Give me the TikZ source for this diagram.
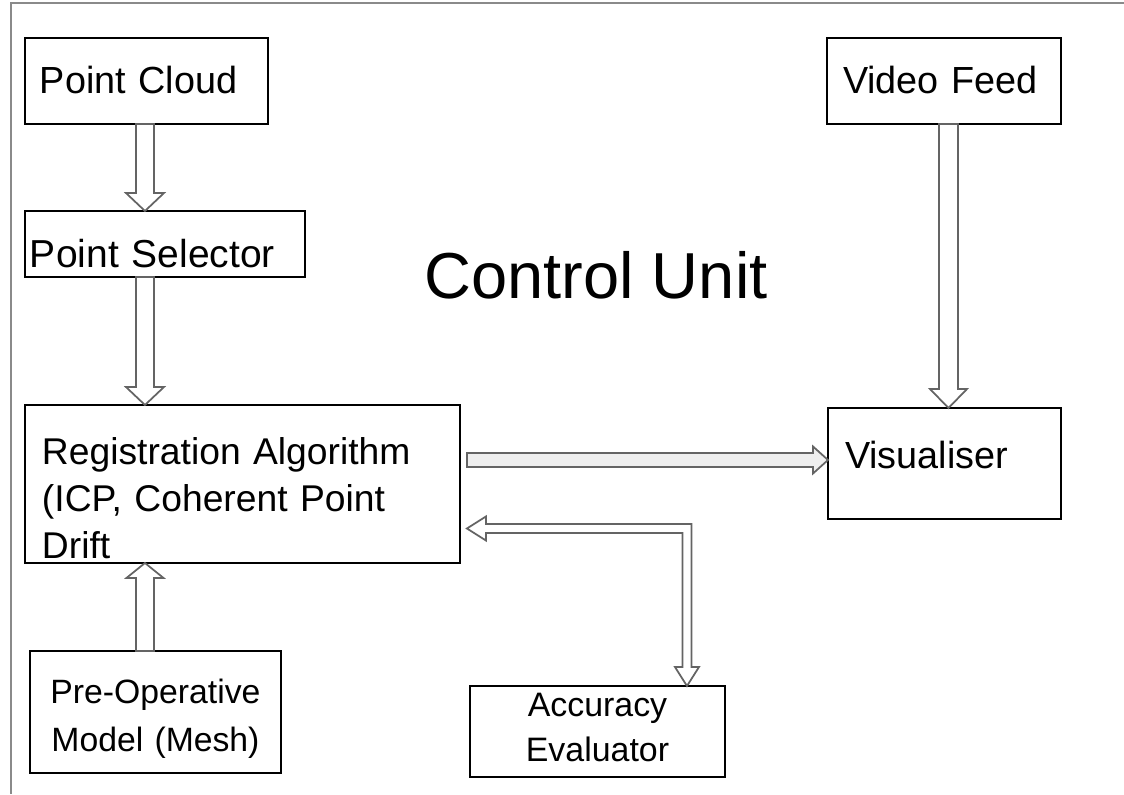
\documentclass[tikz,border=0pt]{standalone}
\usepackage{fontspec}
\setmainfont{Liberation Sans}
\usetikzlibrary{calc}

\definecolor{framegray}{HTML}{8A8A8A}
\definecolor{arrowgray}{HTML}{646464}
\definecolor{barfill}{HTML}{EEEEEE}

% hollow block arrow: shaft half width, head half width, head length
\tikzset{
  blockarrow/.style n args={3}{to path={let \p1=(\tikztostart), \p2=(\tikztotarget), \p3=($(\p2)!#3!(\p1)$) in
    ($(\p1)!#1!90:(\p2)$) -- ($(\p3)!#1!90:(\p2)$) -- ($(\p3)!#2!90:(\p2)$) -- (\p2)
    -- ($(\p3)!#2!-90:(\p2)$) -- ($(\p3)!#1!-90:(\p2)$) -- ($(\p1)!#1!-90:(\p2)$) -- cycle}},
}

\begin{document}
\begin{tikzpicture}[x=0.02cm, y=-0.02cm,
  box/.style={draw, line width=0.04cm, anchor=north west, inner ysep=0pt, outer sep=0pt, align=left,
    font=\fontsize{21.5pt}{26.6pt}\selectfont},
  blk/.style={draw=arrowgray, line width=0.035cm, fill=white, line join=miter}]
\useasboundingbox (0,0) rectangle (1124,794);
\draw[framegray, line width=0.04cm] (1124,3) -- (11,3) -- (11,794);

\node[box, inner xsep=0.3cm, text width=4.26cm, text height=1.12cm, text depth=0.6cm] (cloud) at (25,38) {Point Cloud};
\node[box, font=\fontsize{22.2pt}{26pt}\selectfont, inner xsep=0.1cm, text width=5.4cm, text height=1.14cm, text depth=0.18cm] (sel) at (25,211) {Point Selector};
\node[box, font=\fontsize{21.2pt}{26.6pt}\selectfont, inner xsep=0.34cm, text width=8.02cm, text height=1.2cm, text depth=1.96cm] (reg) at (25,405) {Registration Algorithm\\(ICP, Coherent Point\\Drift};
\node[box, font=\fontsize{19.2pt}{27.6pt}\selectfont, align=center, inner xsep=0.1cm, text width=4.82cm, text height=1.04cm, text depth=1.4cm] (preop) at (30,651) {Pre-Operative\\Model (Mesh)};
\node[box, font=\fontsize{19.3pt}{26pt}\selectfont, align=center, inner xsep=0.1cm, text width=4.9cm, text height=0.6cm, text depth=1.22cm] (acc) at (470,686) {Accuracy\\Evaluator};
\node[box, inner xsep=0.32cm, text width=4.04cm, text height=1.12cm, text depth=0.6cm] (video) at (827,38) {Video Feed};
\node[box, inner xsep=0.34cm, text width=3.98cm, text height=1.22cm, text depth=1.0cm] (vis) at (828,408) {Visualiser};

\node[font=\fontsize{37pt}{44pt}\selectfont] (unit) at (596,275) {Control Unit};

% vertical block arrows
\draw[blk] ([xshift=-0.03cm]cloud.south) to[blockarrow={0.18cm}{0.38cm}{0.36cm}] ([xshift=-0.03cm]cloud.south |- sel.north);
\draw[blk] ([xshift=-0.03cm]cloud.south |- sel.south) to[blockarrow={0.18cm}{0.38cm}{0.36cm}] ([xshift=-0.03cm]cloud.south |- reg.north);
\draw[blk] ([xshift=-0.03cm]cloud.south |- preop.north) to[blockarrow={0.18cm}{0.37cm}{0.3cm}] ([xshift=-0.03cm]cloud.south |- reg.south);
\draw[blk] ([xshift=0.09cm]video.south) to[blockarrow={0.19cm}{0.37cm}{0.38cm}] ([xshift=0.09cm]video.south |- vis.north);

% result to the visualiser
\coordinate (h1) at ($(reg.east)+(7,-24)$);
\draw[blk, fill=barfill] (h1) to[blockarrow={0.14cm}{0.27cm}{0.3cm}] (h1 -| vis.west);

% two way link to the evaluator
\coordinate (e1) at ($(reg.east)+(7,44.5)$);
\coordinate (e2) at ($(acc.north)+(89.5,0)$);
\draw[blk] (e1) -- ++(19,-12) -- ++(0,7.5) -- ($(e2 |- e1)+(4.5,-4.5)$) -- ($(e2)+(4.5,-19)$) -- ++(7.5,0)
  -- (e2) -- ++(-12,-19) -- ++(7.5,0) -- ($(e2 |- e1)+(-4.5,4.5)$) -- ($(e1)+(19,4.5)$) -- ++(0,7.5) -- cycle;
\end{tikzpicture}
\end{document}
